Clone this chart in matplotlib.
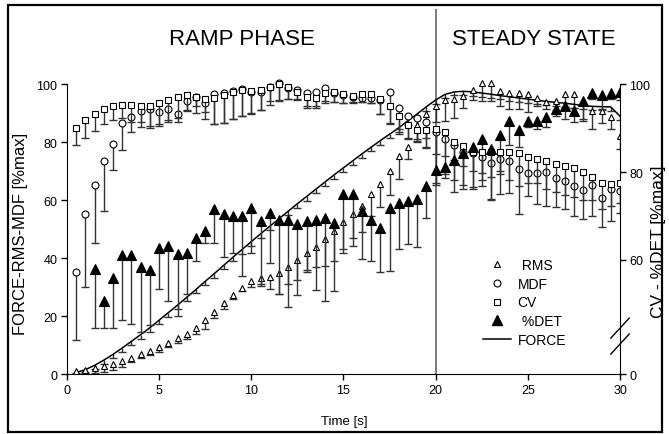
import matplotlib
matplotlib.use('Agg')
import matplotlib.pyplot as plt
from matplotlib.lines import Line2D
from matplotlib.patches import Rectangle

plt.rcParams['font.family'] = ['Liberation Sans', 'DejaVu Sans']

# ---------------- data ----------------
T = [0.5, 1.0, 1.5, 2.0, 2.5, 3.0, 3.5, 4.0, 4.5, 5.0,
     5.5, 6.0, 6.5, 7.0, 7.5, 8.0, 8.5, 9.0, 9.5, 10.0,
     10.5, 11.0, 11.5, 12.0, 12.5, 13.0, 13.5, 14.0, 14.5, 15.0,
     15.5, 16.0, 16.5, 17.0, 17.5, 18.0, 18.5, 19.0, 19.5, 20.0,
     20.5, 21.0, 21.5, 22.0, 22.5, 23.0, 23.5, 24.0, 24.5, 25.0,
     25.5, 26.0, 26.5, 27.0, 27.5, 28.0, 28.5, 29.0, 29.5, 30.0]

# left axis  (FORCE-RMS-MDF [%max])
RMS = [1.1, 1.5, 2.0, 2.6, 3.4, 4.4, 5.7, 6.9, 7.9, 9.4,
       10.7, 12.3, 13.9, 16.0, 18.7, 21.3, 24.6, 27.4, 29.8, 32.1,
       33.1, 33.6, 35.0, 37.0, 39.2, 41.8, 44.0, 46.6, 49.5, 52.4,
       55.2, 58.0, 62.1, 65.5, 70.1, 75.3, 78.5, 86.0, 89.7, 92.5,
       94.6, 95.1, 96.0, 98.0, 100.3, 100.3, 97.7, 96.9, 96.9, 96.8,
       95.4, 93.9, 94.3, 96.6, 96.6, 93.9, 90.8, 90.8, 88.9, 82.2]
RMS_LOW = [0.2, 0.3, 0.5, 0.6, 1.5, 2.5, 4.0, 5.4, 6.4, 7.7,
           9.2, 10.7, 12.0, 13.8, 15.5, 19.2, 22.6, 25.9, 28.7, 30.2,
           30.5, 29.3, 27.6, 31.2, 32.4, 35.8, 36.8, 37.3, 38.9, 41.7,
           46.8, 48.9, 54.5, 57.5, 61.7, 67.4, 74.1, 81.0, 81.5, 87.0,
           87.4, 88.5, 92.0, 94.6, 94.3, 94.3, 92.5, 91.6, 91.4, 90.5,
           92.5, 91.4, 91.0, 92.0, 92.0, 87.4, 84.5, 86.8, 84.5, 77.6]

MDF = [35.3, 55.2, 65.2, 73.6, 79.5, 86.8, 88.9, 90.8, 91.4, 90.5,
       91.4, 89.7, 94.3, 95.5, 93.7, 96.8, 97.1, 97.7, 98.5, 97.5,
       97.5, 99.0, 100.3, 98.7, 98.0, 97.1, 97.4, 98.9, 96.9, 96.2,
       95.8, 95.4, 95.4, 94.5, 97.5, 92.0, 89.1, 88.3, 87.0, 83.5,
       81.3, 79.1, 76.7, 76.4, 74.8, 72.8, 74.4, 73.6, 70.8, 69.3,
       69.5, 69.8, 67.8, 66.7, 64.9, 63.6, 65.2, 60.9, 63.8, 63.2]
MDF_LOW = [11.7, 29.9, 45.4, 56.3, 70.3, 77.4, 83.6, 85.3, 84.8, 85.6,
           87.0, 87.1, 90.8, 90.2, 87.9, 86.2, 86.8, 88.2, 89.0, 90.0,
           91.0, 93.0, 94.3, 95.1, 95.1, 92.0, 92.0, 93.7, 93.9, 93.5,
           93.5, 94.0, 93.5, 89.7, 86.8, 82.8, 81.0, 80.0, 78.0, 66.0,
           69.0, 67.0, 63.8, 64.4, 65.0, 60.3, 62.0, 62.6, 55.2, 61.5,
           58.6, 58.0, 57.5, 56.9, 54.4, 53.4, 54.6, 50.6, 52.9, 55.7]

FORCE = [0.5, 1.5, 3.0, 4.8, 6.8, 9.0, 11.3, 13.6, 16.0, 18.6,
         21.2, 23.8, 26.5, 29.2, 32.0, 34.7, 37.5, 40.3, 43.0, 45.7,
         48.4, 51.0, 53.6, 56.2, 58.8, 61.3, 63.8, 66.3, 68.8, 71.2,
         73.6, 76.0, 78.3, 80.6, 82.8, 85.0, 87.5, 89.8, 92.3, 94.6,
         96.5, 97.4, 97.6, 97.4, 97.0, 96.6, 96.1, 95.7, 95.3, 94.9,
         94.5, 94.1, 93.8, 93.5, 93.1, 92.7, 92.4, 92.3, 92.2, 89.0]
FORCE_LOW = [0.1, 0.7, 1.9, 3.5, 5.5, 7.6, 9.9, 12.2, 14.6, 17.1,
             19.8, 22.4, 25.1, 27.8, 30.6, 33.3, 36.1, 38.9, 41.6, 44.3,
             47.0, 49.6, 52.2, 54.8, 57.4, 59.9, 62.4, 64.9, 67.4, 69.8,
             72.2, 74.6, 76.9, 79.2, 81.4, 83.6, 86.1, 88.4, 90.9, 93.2,
             95.2, 96.2, 96.4, 96.1, 95.7, 95.3, 94.8, 94.4, 94.0, 93.6,
             93.2, 92.8, 92.5, 92.2, 91.8, 91.4, 91.1, 91.0, 90.9, 87.8]

# right axis  (CV - %DET [%max])
CV = [90.1, 91.8, 93.3, 94.5, 95.2, 95.4, 95.3, 95.0, 95.2, 95.8,
      96.4, 97.1, 97.5, 97.2, 96.8, 97.0, 97.6, 98.2, 98.7, 98.6,
      98.8, 99.5, 100.0, 99.5, 98.2, 97.2, 97.0, 98.0, 98.2, 97.8,
      97.4, 97.8, 97.8, 96.6, 95.0, 92.8, 90.8, 89.7, 89.7, 89.8,
      89.2, 86.9, 85.9, 84.7, 84.6, 84.6, 84.6, 84.7, 84.4, 83.5,
      83.0, 82.5, 81.8, 81.4, 80.9, 80.1, 78.9, 77.6, 77.3, 77.5]
CV_LOW = [86.1, 87.7, 89.4, 90.9, 91.8, 92.3, 91.4, 91.5, 90.5, 90.9,
          92.0, 92.4, 94.3, 95.0, 93.7, 91.0, 91.3, 92.2, 92.9, 93.3,
          94.1, 96.2, 96.4, 96.7, 96.4, 95.0, 95.0, 96.2, 96.0, 95.8,
          96.0, 96.0, 95.7, 93.2, 91.1, 89.9, 87.8, 87.1, 85.8, 84.2,
          83.7, 82.8, 81.5, 80.2, 79.9, 78.9, 79.5, 78.2, 76.9, 77.6,
          77.6, 76.2, 75.6, 74.9, 74.3, 73.6, 73.6, 71.6, 72.3, 72.9]

T_DET = T[2:]
DET = [58.0, 50.6, 55.9, 61.1, 61.1, 58.3, 57.8, 62.7, 63.2, 61.4,
       61.5, 65.0, 66.7, 71.6, 70.4, 70.0, 70.1, 71.8, 68.9, 70.6,
       69.2, 69.0, 68.1, 68.9, 69.2, 69.6, 68.5, 75.0, 75.0, 71.2,
       69.1, 67.3, 71.8, 72.9, 73.5, 74.0, 76.8, 80.5, 81.1, 82.8,
       84.4, 85.7, 87.5, 85.2, 88.5, 91.7, 89.6, 91.6, 91.7, 92.6,
       94.4, 95.0, 94.0, 96.3, 98.0, 97.5, 98.0, 98.4]
DET_LOW = [44.6, 44.6, 44.6, 46.4, 45.4, 43.6, 45.1, 53.3, 50.7, 47.3,
           52.2, 59.8, 63.8, 63.8, 60.7, 61.7, 56.4, 61.5, 54.5, 59.4,
           52.2, 49.3, 52.0, 57.3, 53.2, 50.7, 52.9, 62.4, 63.2, 60.2,
           59.7, 57.2, 57.5, 62.6, 63.6, 63.0, 69.6, 77.0, 78.7, 75.6,
           77.2, 76.1, 78.2, 73.7, 80.2, 86.3, 85.7, 90.3, 89.9, 90.3,
           92.9, 92.1, 91.4, 92.1, 96.7, 94.4, 96.7, 96.4]

LEFT_TICKS = [0, 20, 40, 60, 80, 100]
X_TICKS = [0, 5, 10, 15, 20, 25, 30]
RIGHT_TICKS = [34.0, 60, 80, 100]
RIGHT_TICK_LABELS = ['0', '60', '80', '100']
LEGEND_LABELS = [' RMS', 'MDF', 'CV', ' %DET', 'FORCE']

# ---------------- figure ----------------
fig = plt.figure(figsize=(6.69, 4.35), dpi=100)
ax = fig.add_axes([0.1001, 0.1379, 0.8267, 0.839])
ax.set_xlim(0, 30)
ax.set_ylim(0, 126)
ax2 = ax.twinx()
ax2.set_ylim(34.0, 117.2)

BAR = '#333333'


def series(axis, t, val, low, marker, ms, filled):
    axis.vlines(t, low, val, colors=BAR, lw=1.0, zorder=2)
    axis.plot(t, low, ls='none', marker='_', ms=6, mew=1.0, color=BAR, zorder=2)
    if marker is not None:
        axis.plot(t, val, ls='none', marker=marker, ms=ms,
                  mfc='black' if filled else 'white', mec='black', mew=0.8, zorder=3)


ax.axvline(20, color='#707070', lw=1.3, zorder=1)

series(ax, T, FORCE, FORCE_LOW, None, 0, False)
ax.plot(T, FORCE, color='black', lw=1.1, zorder=2.5)
series(ax, T, RMS, RMS_LOW, '^', 5, False)
series(ax, T, MDF, MDF_LOW, 'o', 5, False)
series(ax2, T, CV, CV_LOW, 's', 4.5, False)
series(ax2, T_DET, DET, DET_LOW, '^', 6.5, True)

# axes styling
for s in ['top', 'right']:
    ax.spines[s].set_visible(False)
ax.spines['left'].set_bounds(0, 100)
for s in ['top', 'left', 'bottom']:
    ax2.spines[s].set_visible(False)
ax2.spines['right'].set_bounds(34.0, 100)

ax.set_yticks(LEFT_TICKS)
ax.set_xticks(X_TICKS)
ax.tick_params(direction='out', length=4, width=1, labelsize=9, pad=3)
ax2.set_yticks(RIGHT_TICKS)
ax2.set_yticklabels(RIGHT_TICK_LABELS)
ax2.tick_params(direction='out', length=4, width=1, labelsize=9, pad=2.5)

# axis break marks on right axis
ax.plot([29.5, 30.5], [12.4, 19.3], color='black', lw=1.0, clip_on=False)
ax.plot([29.5, 30.5], [6.9, 13.8], color='black', lw=1.0, clip_on=False)

ax.text(9.5, 116.0, 'RAMP PHASE', ha='center', va='center', fontsize=16)
ax.text(25.3, 116.0, 'STEADY STATE', ha='center', va='center', fontsize=16)

fig.text(21 / 669, 1 - 234 / 435, 'FORCE-RMS-MDF [%max]', rotation=90,
         ha='center', va='center', fontsize=12)
fig.text(659 / 669, 1 - 242 / 435, 'CV - %DET [%max]', rotation=90,
         ha='center', va='center', fontsize=12.5)
fig.text(344 / 669, 1 - 421.7 / 435, 'Time [s]', ha='center', va='center', fontsize=9.5)

handles = [
    Line2D([], [], ls='none', marker='^', ms=5, mfc='white', mec='black', mew=0.8),
    Line2D([], [], ls='none', marker='o', ms=5, mfc='white', mec='black', mew=0.8),
    Line2D([], [], ls='none', marker='s', ms=4.5, mfc='white', mec='black', mew=0.8),
    Line2D([], [], ls='none', marker='^', ms=6.5, mfc='black', mec='black'),
    Line2D([], [], color='black', lw=1.1),
]
leg = ax2.legend(handles, LEGEND_LABELS, loc='upper left', bbox_to_anchor=(0.752, 0.318),
                 frameon=False, fontsize=10, handlelength=2.0, handletextpad=0.5,
                 labelspacing=0.34, borderpad=0, borderaxespad=0)

fig.add_artist(Rectangle((0.0115, 0.0053), 0.978, 0.981, transform=fig.transFigure,
                         fill=False, lw=1.6, ec='black'))

fig.savefig('out.png', dpi=100)
